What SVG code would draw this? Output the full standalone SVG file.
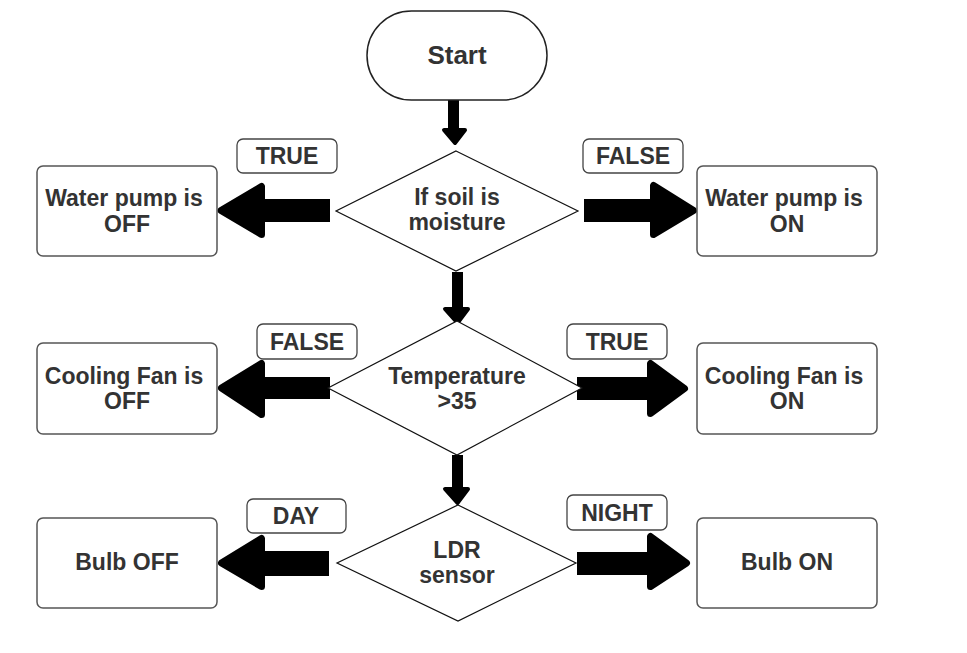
<svg xmlns="http://www.w3.org/2000/svg" width="967" height="653" viewBox="0 0 967 653">
<style>
  .box{fill:#fff;stroke:#555;stroke-width:1.5}
  .lbl{fill:#fff;stroke:#444;stroke-width:1.3}
  .dia{fill:#fff;stroke:#111;stroke-width:1.2}
  .t{font-family:"Liberation Sans",Arial,sans-serif;font-weight:bold;font-size:23px;fill:#333;text-anchor:middle}
  .shaft{fill:#000}
  .hd{fill:#000;stroke:#000;stroke-width:7;stroke-linejoin:round}
  .hdv{fill:#000;stroke:#000;stroke-width:4;stroke-linejoin:round}
</style>
<rect width="967" height="653" fill="#fff"/>

<g id="connectors">
  <rect class="shaft" x="448" y="100" width="11" height="30"/>
  <polygon class="hdv" points="444,130 465,130 455,143"/>
  <rect class="shaft" x="452" y="272" width="11" height="37"/>
  <polygon class="hdv" points="445,309 468,309 457.5,323"/>
  <rect class="shaft" x="452" y="455" width="11" height="34"/>
  <polygon class="hdv" points="445,489 468,489 457.5,503"/>
  <rect class="shaft" x="256" y="199" width="74" height="23"/>
  <polygon class="hd" points="221,210.5 261.5,186.5 261.5,234.5"/>
  <rect class="shaft" x="584" y="199" width="74" height="23"/>
  <polygon class="hd" points="693.5,210.5 653.5,185.5 653.5,234.5"/>
  <rect class="shaft" x="256" y="377" width="74" height="22"/>
  <polygon class="hd" points="221.5,388 261.5,363.5 261.5,414.5"/>
  <rect class="shaft" x="577" y="377" width="74" height="23"/>
  <polygon class="hd" points="684.5,388.5 650.5,363.5 650.5,413.5"/>
  <rect class="shaft" x="256" y="551" width="73" height="25"/>
  <polygon class="hd" points="221.5,563 261.5,538.5 261.5,586.5"/>
  <rect class="shaft" x="577" y="552" width="74" height="23"/>
  <polygon class="hd" points="686.5,563 650.5,536.5 650.5,586.5"/>
</g>

<g id="start">
  <rect class="box" x="367" y="11" width="180" height="89" rx="44.5" style="stroke:#222"/>
  <text class="t" x="457" y="64" style="font-size:26px">Start</text>
</g>

<g id="dec-soil">
  <polygon class="dia" points="456,151 578,211 456,271 336,211"/>
  <text class="t" x="457" y="205">If soil is</text>
  <text class="t" x="457" y="230">moisture</text>
</g>
<g id="dec-temp">
  <polygon class="dia" points="457,321 582,388 457,455 328,388"/>
  <text class="t" x="457" y="384">Temperature</text>
  <text class="t" x="457" y="409">&gt;35</text>
</g>
<g id="dec-ldr">
  <polygon class="dia" points="458,505 576,563 458,621 337,563"/>
  <text class="t" x="457" y="558">LDR</text>
  <text class="t" x="457" y="583">sensor</text>
</g>

<g id="pump-off">
  <rect class="box" x="37" y="166" width="180" height="90" rx="6"/>
  <text class="t" x="124" y="206">Water pump is</text>
  <text class="t" x="127" y="232">OFF</text>
</g>
<g id="pump-on">
  <rect class="box" x="697" y="166" width="180" height="90" rx="6"/>
  <text class="t" x="784" y="206">Water pump is</text>
  <text class="t" x="787" y="232">ON</text>
</g>
<g id="fan-off">
  <rect class="box" x="37" y="343" width="180" height="91" rx="6"/>
  <text class="t" x="124" y="384">Cooling Fan is</text>
  <text class="t" x="127" y="409">OFF</text>
</g>
<g id="fan-on">
  <rect class="box" x="697" y="343" width="180" height="91" rx="6"/>
  <text class="t" x="784" y="384">Cooling Fan is</text>
  <text class="t" x="787" y="409">ON</text>
</g>
<g id="bulb-off">
  <rect class="box" x="37" y="518" width="180" height="90" rx="6"/>
  <text class="t" x="127" y="570">Bulb OFF</text>
</g>
<g id="bulb-on">
  <rect class="box" x="697" y="518" width="180" height="90" rx="6"/>
  <text class="t" x="787" y="570">Bulb ON</text>
</g>

<g id="lbl-true1">
  <rect class="lbl" x="237" y="139" width="100" height="34" rx="6"/>
  <text class="t" x="287" y="164">TRUE</text>
</g>
<g id="lbl-false1">
  <rect class="lbl" x="583" y="139" width="100" height="34" rx="6"/>
  <text class="t" x="633" y="164">FALSE</text>
</g>
<g id="lbl-false2">
  <rect class="lbl" x="257" y="324" width="100" height="35" rx="6"/>
  <text class="t" x="307" y="350">FALSE</text>
</g>
<g id="lbl-true2">
  <rect class="lbl" x="567" y="324" width="100" height="35" rx="6"/>
  <text class="t" x="617" y="350">TRUE</text>
</g>
<g id="lbl-day">
  <rect class="lbl" x="247" y="499" width="99" height="34" rx="6"/>
  <text class="t" x="296" y="524">DAY</text>
</g>
<g id="lbl-night">
  <rect class="lbl" x="567" y="495" width="100" height="35" rx="6"/>
  <text class="t" x="617" y="521">NIGHT</text>
</g>
</svg>
